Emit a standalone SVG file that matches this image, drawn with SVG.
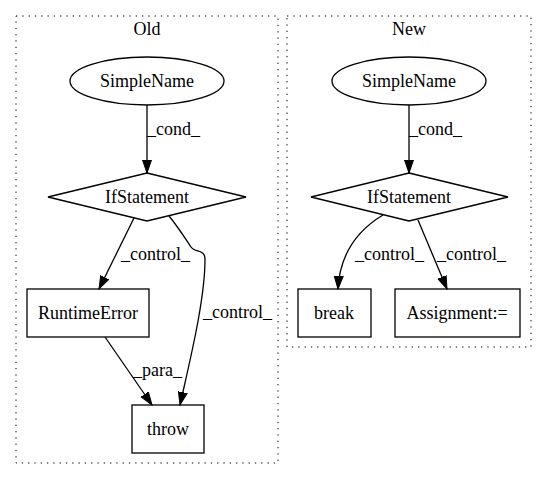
<svg xmlns="http://www.w3.org/2000/svg" width="547" height="480" viewBox="0 0 547 480" font-family="'Liberation Serif', 'Times New Roman', serif">
<style>
text{font-size:18px;fill:#000}
.c{text-anchor:middle}
.cl{fill:none;stroke:#000;stroke-dasharray:1.3,5}
.n{fill:none;stroke:#000;stroke-width:1.3}
.e{fill:none;stroke:#000;stroke-width:1.3;marker-end:url(#a)}
</style>
<defs>
<marker id="a" markerUnits="userSpaceOnUse" markerWidth="14" markerHeight="12" refX="13" refY="6" orient="auto">
<path d="M0,1.5 L13,6 L0,10.5 z" fill="#000" stroke="#000"/>
</marker>
</defs>
<rect fill="#fff" width="547" height="480"/>
<g id="cluster_old">
<rect class="cl" x="16" y="16" width="262" height="447"/>
<text class="c" x="147" y="35">Old</text>
</g>
<g id="cluster_new">
<rect class="cl" x="287" y="16" width="244" height="331"/>
<text class="c" x="409" y="35">New</text>
</g>
<g id="old_simplename">
<ellipse class="n" cx="147" cy="81" rx="77" ry="24"/>
<text class="c" x="147" y="87">SimpleName</text>
</g>
<g id="old_if">
<polygon class="n" points="147,173 246,197 147,221 48,197"/>
<text class="c" x="147" y="203">IfStatement</text>
</g>
<g id="old_runtime">
<rect class="n" x="27" y="289" width="122" height="48"/>
<text class="c" x="88" y="319">RuntimeError</text>
</g>
<g id="old_throw">
<rect class="n" x="132" y="405" width="72" height="48"/>
<text class="c" x="168" y="435">throw</text>
</g>
<g id="new_simplename">
<ellipse class="n" cx="409" cy="81" rx="77" ry="24"/>
<text class="c" x="409" y="87">SimpleName</text>
</g>
<g id="new_if">
<polygon class="n" points="409,173 508,197 409,221 311,197"/>
<text class="c" x="409" y="203">IfStatement</text>
</g>
<g id="new_break">
<rect class="n" x="298" y="289" width="73" height="48"/>
<text class="c" x="334" y="319">break</text>
</g>
<g id="new_assign">
<rect class="n" x="395" y="289" width="125" height="48"/>
<text class="c" x="457" y="319">Assignment:=</text>
</g>
<g id="connectors">
<path class="e" d="M147,105 L147,173"/>
<text x="147" y="135">_cond_</text>
<path class="e" d="M134,218 L99,289"/>
<text x="121" y="260">_control_</text>
<path class="e" d="M169,216 C178,227 185,238 191,247 C195,253 205,249 205,259 C205,300 190,360 180,405"/>
<text x="203" y="318">_control_</text>
<path class="e" d="M105,337 L152,405"/>
<text x="133" y="376">_para_</text>
<path class="e" d="M409,105 L409,173"/>
<text x="409" y="135">_cond_</text>
<path class="e" d="M383,215 C358,230 340,252 338,289"/>
<text x="355" y="260">_control_</text>
<path class="e" d="M418,220 L447,289"/>
<text x="437" y="260">_control_</text>
</g>
</svg>
